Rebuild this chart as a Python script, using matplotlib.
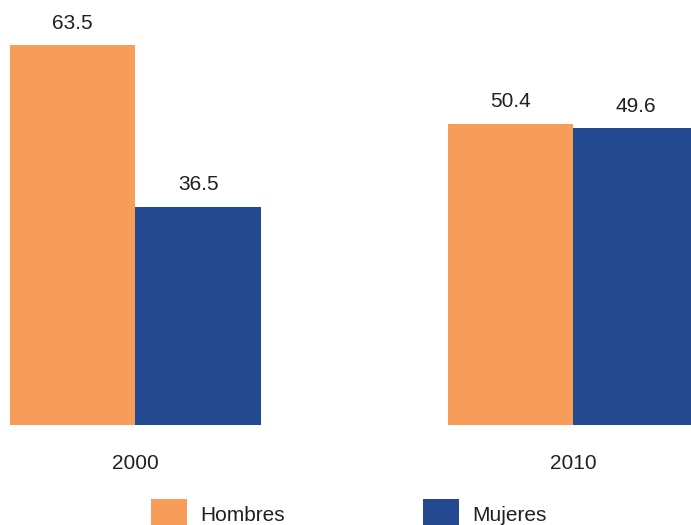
import matplotlib
matplotlib.use("Agg")
from matplotlib import pyplot as plt
import numpy as np

# datos
years = ["2000", "2010"]
hombres = [63.5, 50.4]
mujeres = [36.5, 49.6]
series_names = ["Hombres", "Mujeres"]

orange = "#F79D59"
blue = "#234A91"
txt = "#231F20"

plt.rcParams['font.family'] = ['Liberation Sans', 'DejaVu Sans']

fig = plt.figure(figsize=(6.91, 5.25), dpi=100)
ax = fig.add_axes([10 / 691, 100 / 525, 681 / 691, 425 / 525])

centers = np.array([0.0, 3.49])
w = 1.0
b1 = ax.bar(centers - w / 2, hombres, w, color=orange, label=series_names[0])
b2 = ax.bar(centers + w / 2, mujeres, w, color=blue, label=series_names[1])

for bars in (b1, b2):
    for r in bars:
        ax.annotate(f"{r.get_height():.1f}", (r.get_x() + r.get_width() / 2, r.get_height()),
                    xytext=(0, 9), textcoords="offset points", ha="center", va="bottom",
                    fontsize=15, color=txt)

ax.set_xlim(-1.0, (691 - 135) / 125.5)
ax.set_ylim(0, 425 / 5.98)
ax.set_xticks(centers)
ax.set_xticklabels(years, fontsize=15, color=txt)
ax.tick_params(axis="x", length=0, pad=21)
ax.set_yticks([])
for s in ax.spines.values():
    s.set_visible(False)

fig.legend(handles=[b1, b2], loc="upper left", bbox_to_anchor=(151 / 691, 1 - 499 / 525),
           ncol=2, frameon=False, fontsize=15, handlelength=1.73, handleheight=1.85,
           handletextpad=0.62, columnspacing=6.65, borderpad=0, borderaxespad=0,
           labelcolor=txt)

fig.savefig("out.png", dpi=100)
